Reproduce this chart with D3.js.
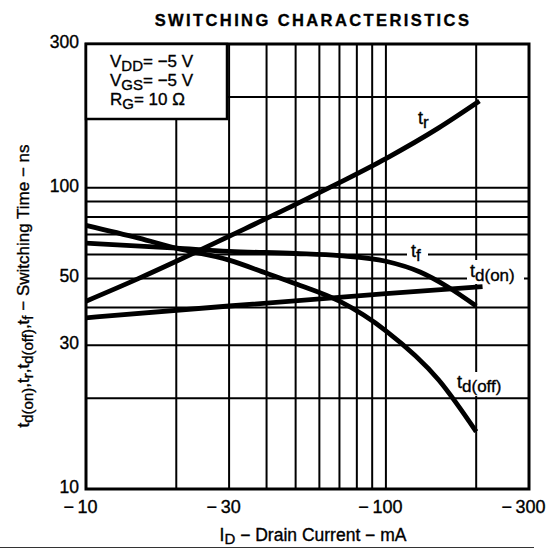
<!DOCTYPE html>
<html>
<head>
<meta charset="utf-8">
<script src="https://cdn.jsdelivr.net/npm/d3@7/dist/d3.min.js"></script>
<style>
  html, body { margin: 0; padding: 0; background: #fff; }
  svg { display: block; }
  text { font-family: "Liberation Sans", Arial, sans-serif; fill: #000; stroke: #000; stroke-width: 0.35px; }
</style>
</head>
<body>
<svg id="chart" width="559" height="549"></svg>
<script>
// ---- data ----
const xTicks = [-10, -30, -100, -300];
const yTicks = [10, 30, 50, 100, 300];
const xGrid = [-20, -30, -40, -50, -60, -70, -80, -90, -100, -200];
const yGrid = [20, 30, 40, 50, 60, 70, 80, 90, 100, 200];

const trI    = [-10, -15, -20, -30, -50, -70, -100, -150, -205];
const trT    = [42, 50, 57, 69, 88, 104, 125, 158, 194];
const tfI    = [-10, -20, -30, -50, -70, -100, -130, -160, -200];
const tfT    = [65.5, 63, 61.5, 60.5, 59.5, 57, 52.5, 47, 40.5];
const tdoffI = [-10, -15, -20, -30, -40, -50, -70, -100, -150, -200];
const tdoffT = [75, 68, 63, 57.5, 52, 48, 42, 33.5, 23, 15.5];
const tdonI  = [-10, -30, -100, -210];
const tdonT  = [37, 40.5, 44.5, 47];

const svg = d3.select("#chart");
const L = 86, R = 529, T = 44, B = 489;

const x = d3.scaleLog().domain([-10, -300]).range([L, R]);
const y = d3.scaleLog().domain([10, 300]).range([B, T]);

const fmt = v => "\u2212\u2009" + Math.abs(v);

// grid
const g = svg.append("g");
g.selectAll(".vg").data(xGrid).enter().append("line")
  .attr("x1", d => x(d)).attr("x2", d => x(d))
  .attr("y1", T).attr("y2", B)
  .attr("stroke", "#000").attr("stroke-width", 2);
g.selectAll(".hg").data(yGrid).enter().append("line")
  .attr("x1", L).attr("x2", R)
  .attr("y1", d => y(d)).attr("y2", d => y(d))
  .attr("stroke", "#000").attr("stroke-width", 2);

// frame
svg.append("rect").attr("x", L).attr("y", T).attr("width", R - L).attr("height", B - T)
  .attr("fill", "none").attr("stroke", "#000").attr("stroke-width", 3);

// axes (tick labels only)
const xAxis = d3.axisBottom(x).tickValues(xTicks).tickFormat(fmt).tickSize(0).tickPadding(0);
const xa = svg.append("g").attr("transform", `translate(0,${B})`).call(xAxis);
xa.select(".domain").remove();
xa.selectAll("text").attr("font-size", 18).attr("dy", 0).attr("y", 24)
  .attr("dx", -6).style("font-family", '"Liberation Sans", Arial, sans-serif');

const yAxis = d3.axisLeft(y).tickValues(yTicks).tickFormat(d3.format("d")).tickSize(0).tickPadding(0);
const ya = svg.append("g").attr("transform", `translate(${L - 7},0)`).call(yAxis);
ya.select(".domain").remove();
ya.selectAll("text").attr("font-size", 17.5).attr("dy", "0.2em")
  .style("font-family", '"Liberation Sans", Arial, sans-serif');

// legend box
svg.append("rect").attr("x", L).attr("y", T).attr("width", 141).attr("height", 75)
  .attr("fill", "#fff").attr("stroke", "#000").attr("stroke-width", 2.5);
const legendRows = [["V", "DD", "= \u22125 V"], ["V", "GS", "= \u22125 V"], ["R", "G", "= 10 \u03A9"]];
legendRows.forEach((r, i) => {
  const t = svg.append("text").attr("x", 110).attr("y", 67 + i * 19).attr("font-size", 17);
  t.append("tspan").text(r[0]);
  t.append("tspan").attr("dy", 4).attr("font-size", 15).text(r[1]);
  t.append("tspan").attr("dy", -4).text(r[2]);
});

// curves
const line = d3.line().x(d => x(d[0])).y(d => y(d[1])).curve(d3.curveMonotoneX);
const series = [
  d3.zip(trI, trT), d3.zip(tfI, tfT), d3.zip(tdoffI, tdoffT), d3.zip(tdonI, tdonT)
];
svg.selectAll(".curve").data(series).enter().append("path")
  .attr("d", line).attr("fill", "none").attr("stroke", "#000")
  .attr("stroke-width", 4.8).attr("stroke-linecap", "butt");

// curve labels
function label(px, py, main, sub, bg) {
  if (bg) svg.append("rect").attr("x", bg[0]).attr("y", bg[1]).attr("width", bg[2]).attr("height", bg[3]).attr("fill", "#fff");
  const t = svg.append("text").attr("x", px).attr("y", py).attr("font-size", 18);
  t.append("tspan").text(main);
  t.append("tspan").attr("dy", 4).attr("font-size", 17).text(sub);
}
label(418, 124, "t", "r", null);
label(411, 257, "t", "f", [407, 243, 21, 21]);
label(470, 277, "t", "d(on)", [467, 260, 57, 24]);
label(457, 388, "t", "d(off)", [454, 372, 60, 24]);

// title
svg.append("text").attr("x", 313).attr("y", 26).attr("text-anchor", "middle")
  .attr("font-size", 16.5).attr("font-weight", "bold").attr("letter-spacing", 2.4)
  .text("SWITCHING CHARACTERISTICS");

// x title
const xt = svg.append("text").attr("x", 313).attr("y", 541).attr("text-anchor", "middle").attr("font-size", 17.5);
xt.append("tspan").text("I");
xt.append("tspan").attr("dy", 3).attr("font-size", 15).text("D");
xt.append("tspan").attr("dy", -3).text(" \u2212 Drain Current \u2212 mA");

// y title
const yt = svg.append("text").attr("transform", "translate(29,286) rotate(-90)")
  .attr("text-anchor", "middle").attr("font-size", 17);
yt.append("tspan").text("t");
yt.append("tspan").attr("dy", 4).attr("font-size", 15).text("d(on)");
yt.append("tspan").attr("dy", -4).text(",t");
yt.append("tspan").attr("dy", 4).attr("font-size", 15).text("r");
yt.append("tspan").attr("dy", -4).text(",t");
yt.append("tspan").attr("dy", 4).attr("font-size", 15).text("d(off)");
yt.append("tspan").attr("dy", -4).text(",t");
yt.append("tspan").attr("dy", 4).attr("font-size", 15).text("f");
yt.append("tspan").attr("dy", -4).text(" \u2212 Switching Time \u2212 ns");

// bottom edge rule
svg.append("line").attr("x1", 0).attr("x2", 534).attr("y1", 547.5).attr("y2", 547.5)
  .attr("stroke", "#333").attr("stroke-width", 1);
</script>
</body>
</html>
